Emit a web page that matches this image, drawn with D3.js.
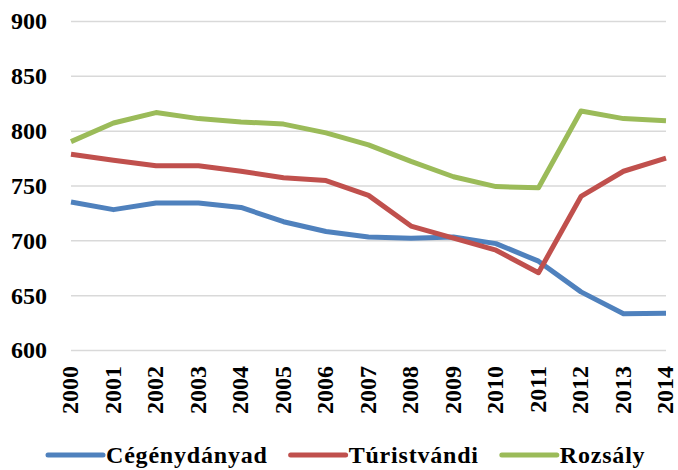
<!DOCTYPE html>
<html>
<head>
<meta charset="utf-8">
<script src="https://cdn.jsdelivr.net/npm/d3@7"></script>
<style>
  body { margin: 0; background: #fff; }
</style>
</head>
<body>
<div id="chart"></div>
<script>
// data
const years = ["2000", "2001", "2002", "2003", "2004", "2005", "2006", "2007",
               "2008", "2009", "2010", "2011", "2012", "2013", "2014"];
const cegenydanyad = [735, 728, 734, 734, 730, 717, 708, 703, 702, 703, 697, 681, 653, 633, 633.5];
const turistvandi  = [778.5, 773, 768, 768, 763, 757, 754.5, 741, 713, 702, 691, 670.5, 740, 763, 775];
const rozsaly      = [790, 807, 816.5, 811, 808, 806, 798, 787, 772, 758, 749, 748, 818, 811, 809];
const seriesNames  = ["Cégénydányad", "Túristvándi", "Rozsály"];
const yTicks = [600, 650, 700, 750, 800, 850, 900];

const series = [
    { name: seriesNames[0], values: cegenydanyad, color: "#4F81BD" },
    { name: seriesNames[1], values: turistvandi,  color: "#C0504D" },
    { name: seriesNames[2], values: rozsaly,      color: "#9BBB59" }
];

const FONT = "Liberation Serif";
const FS = 24;

// helper to put the font right on every text node
function styleText(sel) {
    sel.attr("font-family", FONT)
        .attr("font-weight", "bold")
        .attr("font-size", FS)
        .attr("fill", "#000");
}

// svg setup
const width = 678, height = 470;
const margin = { top: 21, right: 12, bottom: 120, left: 71 };
const innerW = width - margin.left - margin.right;
const innerH = height - margin.top - margin.bottom;

const svg = d3.select("#chart").append("svg")
    .attr("width", width)
    .attr("height", height);
const g = svg.append("g")
    .attr("transform", `translate(${margin.left},${margin.top})`);

// scales
const x = d3.scalePoint().domain(years).range([0, innerW]);
const y = d3.scaleLinear().domain([600, 900]).range([innerH, 0]);

// y axis with gridlines
const gy = g.append("g")
    .call(d3.axisLeft(y).tickValues(yTicks).tickSize(-innerW).tickPadding(24));
gy.select(".domain").remove();
gy.selectAll(".tick line").attr("stroke", "#d9d9d9").attr("stroke-width", 1.5);
gy.selectAll(".tick text")
    .call(styleText)
    .attr("dy", "0.33em");

// x axis labels, rotated
const gx = g.append("g")
    .attr("transform", `translate(0,${innerH})`)
    .call(d3.axisBottom(x).tickSize(0));
gx.select(".domain").remove();
gx.selectAll(".tick text")
    .call(styleText)
    .attr("text-anchor", "end")
    .attr("transform", "rotate(-90)")
    .attr("x", -16)
    .attr("y", 0)
    .attr("dy", "0.28em");

// lines
const line = d3.line()
    .x((d, i) => x(years[i]))
    .y(d => y(d));

g.selectAll(".series")
    .data(series)
    .enter()
    .append("path")
    .attr("class", "series")
    .attr("fill", "none")
    .attr("stroke", d => d.color)
    .attr("stroke-width", 5)
    .attr("stroke-linejoin", "round")
    .attr("d", d => line(d.values));

// legend along the bottom
const legend = svg.append("g").attr("transform", "translate(48,455)");
let lx = 0;
series.forEach(s => {
    legend.append("line")
        .attr("x1", lx).attr("x2", lx + 55)
        .attr("y1", 0).attr("y2", 0)
        .attr("stroke", s.color)
        .attr("stroke-width", 5)
        .attr("stroke-linecap", "round");
    const t = legend.append("text")
        .attr("x", lx + 58)
        .attr("y", 0)
        .attr("dy", "0.33em")
        .call(styleText)
        .attr("letter-spacing", 0.8)
        .text(s.name);
    lx += 58 + t.node().getComputedTextLength() + 23;
});
</script>
</body>
</html>
